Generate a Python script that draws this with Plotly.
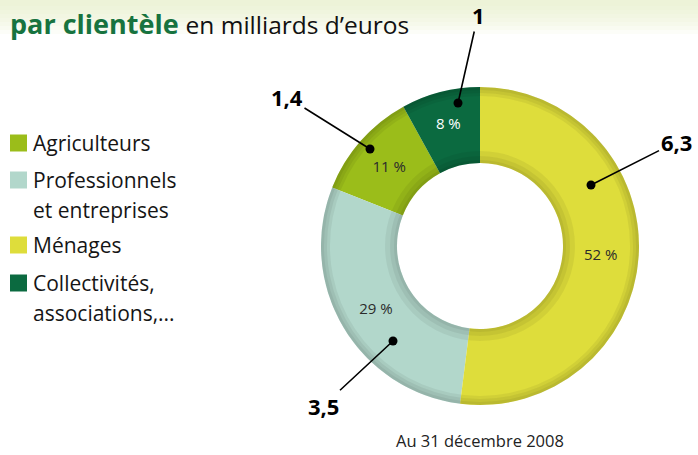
import plotly.graph_objects as go

W, H = 698, 455

# encours par clientèle (milliards d'euros) et parts
clientele = ["Agriculteurs", "Professionnels<br>et entreprises", "Ménages",
             "Collectivités,<br>associations,..."]
parts = [11, 29, 52, 8]
montants = ["1,4", "3,5", "6,3", "1"]
color_map = ["#9BBD1A", "#B2D7CB", "#DEDD3B", "#0B6A40"]
txt_colors = ["#2b2b2b", "#2b2b2b", "#2b2b2b", "white"]


def px(x, y):
    return x / W, 1 - y / H


fig = go.Figure()

# bandeau clair en haut de page
for i in range(8):
    fig.add_shape(type="rect", xref="paper", yref="paper", x0=0, x1=1,
                  y0=1 - (6 + i * 4) / H, y1=1, fillcolor="#E6EEC4",
                  opacity=0.12, line_width=0, layer="below")

cx, cy, r_out, r_in = 480, 246, 159, 83
fig.add_trace(go.Pie(
    labels=clientele, values=parts, sort=False, direction="counterclockwise",
    rotation=-68.4, hole=r_in / r_out,
    marker=dict(colors=color_map, line=dict(width=0)),
    texttemplate=[str(p) + " %" for p in parts], textinfo="text",
    textposition="inside", insidetextorientation="horizontal",
    textfont=dict(size=15, color=txt_colors, family="Open Sans"),
    domain=dict(x=[(cx - r_out) / W, (cx + r_out) / W], y=[1 - (cy + r_out) / H, 1 - (cy - r_out) / H]),
    hoverinfo="label+percent", showlegend=False,
))

# léger relief : bord extérieur et ombre intérieure (anneaux superposés)
anneaux = [(r_out, r_out - w) for w in (9, 6, 3)] + [(r_in + w, r_in) for w in (12, 7, 3)]
for r, r0 in anneaux:
    fig.add_trace(go.Pie(values=[1], labels=[""], hole=r0 / r, sort=False,
                         marker=dict(colors=["rgba(0,0,0,0.055)"], line=dict(width=0)),
                         textinfo="none", hoverinfo="skip", showlegend=False,
                         domain=dict(x=[(cx - r) / W, (cx + r) / W], y=[1 - (cy + r) / H, 1 - (cy - r) / H])))

# montants avec traits de rappel
rappels = [
    ("1", 458, 103, 20, -88),
    ("1,4", 370, 149, -83, -52),
    ("6,3", 591, 185, 85, -43),
    ("3,5", 393, 341, -70, 65),
]
for txt, x, y, ax, ay in rappels:
    xp, yp = px(x, y)
    fig.add_annotation(x=xp, y=yp, xref="paper", yref="paper", text="<b>" + txt + "</b>",
                       showarrow=True, ax=ax, ay=ay, arrowhead=6, arrowsize=1.4,
                       arrowwidth=1.6, arrowcolor="black", standoff=0,
                       font=dict(size=22, color="black", family="Open Sans"))

# légende
legende = [
    (color_map[0], 143, ["Agriculteurs"]),
    (color_map[1], 180, ["Professionnels", "et entreprises"]),
    (color_map[2], 245, ["Ménages"]),
    (color_map[3], 283, ["Collectivités,", "associations,..."]),
]
for col, y, lignes in legende:
    fig.add_shape(type="rect", xref="paper", yref="paper", x0=10 / W, x1=27 / W,
                  y0=1 - (y + 8.5) / H, y1=1 - (y - 8.5) / H, fillcolor=col, line_width=0)
    for k, ligne in enumerate(lignes):
        fig.add_annotation(x=31 / W, y=1 - (y + 30 * k) / H, xref="paper", yref="paper",
                           xanchor="left", yanchor="middle", showarrow=False, text=ligne,
                           font=dict(size=21, color="#151515", family="Open Sans"))

fig.add_annotation(x=8 / W, y=1 - 23 / H, xref="paper", yref="paper", xanchor="left", yanchor="middle",
                   showarrow=False,
                   text="<b>par clientèle</b> <span style='font-size:24.5px;color:#111'>en milliards d’euros</span>",
                   font=dict(size=27, color="#17733F", family="Open Sans"))

fig.add_annotation(x=480 / W, y=1 - 440 / H, xref="paper", yref="paper", xanchor="center", yanchor="middle",
                   showarrow=False, text="Au 31 décembre 2008",
                   font=dict(size=16.5, color="#222", family="Open Sans"))

fig.update_layout(
    width=W, height=H, margin=dict(l=0, r=0, t=0, b=0),
    plot_bgcolor="white", paper_bgcolor="white",
    showlegend=False,
)

fig.write_html("out.html", config={"displayModeBar": False},
               post_script="document.body.style.margin='0px';")
